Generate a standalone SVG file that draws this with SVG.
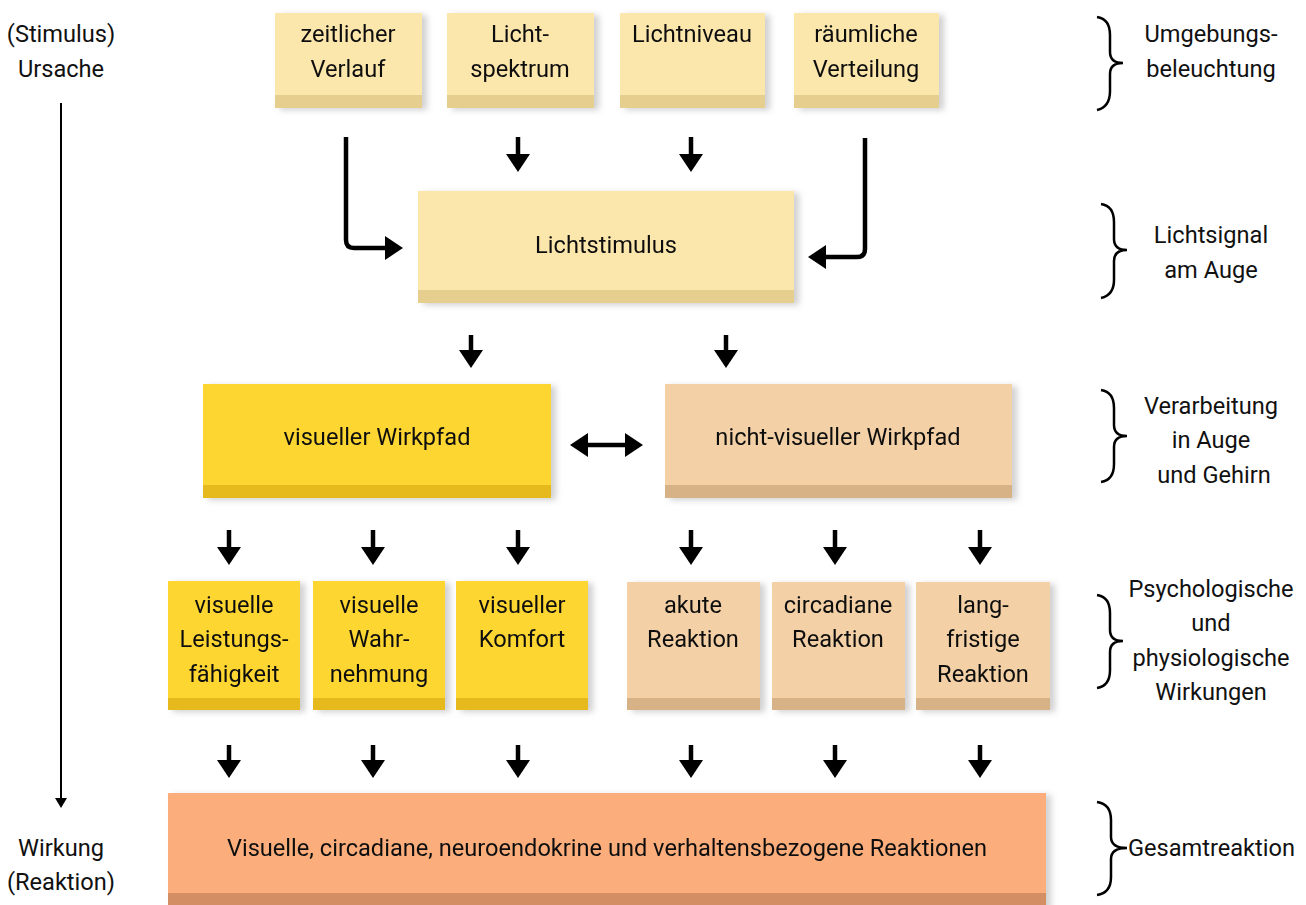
<svg xmlns="http://www.w3.org/2000/svg" width="1306" height="905" viewBox="0 0 1306 905">
<defs>
<style>
text{font-family:Roboto,"Liberation Sans",sans-serif;font-size:23.6px;fill:#111;text-anchor:middle}
.lt{fill:#FBE6AC}.ltb{fill:#E6CF8E}
.ye{fill:#FDD631}.yeb{fill:#E6B91E}
.tn{fill:#F3D0A5}.tnb{fill:#D8B287}
.or{fill:#FBAE7B}.orb{fill:#D48E63}
.arr{stroke:#000;stroke-width:4.5;fill:none}
.br{stroke:#000;stroke-width:2.5;fill:none}
</style>
<filter id="sh" x="-10%" y="-10%" width="125%" height="130%">
<feDropShadow dx="5" dy="2" stdDeviation="3" flood-color="#7a7a7a" flood-opacity="0.35"/>
</filter>
<marker id="ah" viewBox="0 0 18 24" refX="4" refY="12" markerWidth="18" markerHeight="24" markerUnits="userSpaceOnUse" orient="auto-start-reverse">
<path d="M0,0 L18,12 L0,24 z" fill="#000"/>
</marker>
<marker id="ahs" viewBox="0 0 10 12" refX="2" refY="6" markerWidth="10" markerHeight="12" markerUnits="userSpaceOnUse" orient="auto">
<path d="M0,0 L10,6 L0,12 z" fill="#000"/>
</marker>
</defs>
<rect width="1306" height="905" fill="#fff"/>

<g id="connectors">
<line class="arr" x1="518" y1="137" x2="518" y2="158" marker-end="url(#ah)"/>
<line class="arr" x1="691" y1="137" x2="691" y2="158" marker-end="url(#ah)"/>
<path class="arr" d="M346,137 V240 Q346,248 354,248 H389" marker-end="url(#ah)"/>
<path class="arr" d="M865,138 V249 Q865,257 857,257 H822" marker-end="url(#ah)"/>
<line class="arr" x1="471" y1="335" x2="471" y2="354" marker-end="url(#ah)"/>
<line class="arr" x1="726" y1="335" x2="726" y2="354" marker-end="url(#ah)"/>
<line class="arr" x1="584" y1="445" x2="629" y2="445" marker-start="url(#ah)" marker-end="url(#ah)"/>
<g>
<line class="arr" x1="229" y1="530" x2="229" y2="551" marker-end="url(#ah)"/>
<line class="arr" x1="373" y1="530" x2="373" y2="551" marker-end="url(#ah)"/>
<line class="arr" x1="518" y1="530" x2="518" y2="551" marker-end="url(#ah)"/>
<line class="arr" x1="691" y1="530" x2="691" y2="551" marker-end="url(#ah)"/>
<line class="arr" x1="835" y1="530" x2="835" y2="551" marker-end="url(#ah)"/>
<line class="arr" x1="980" y1="530" x2="980" y2="551" marker-end="url(#ah)"/>
</g>
<g>
<line class="arr" x1="229" y1="745" x2="229" y2="764" marker-end="url(#ah)"/>
<line class="arr" x1="373" y1="745" x2="373" y2="764" marker-end="url(#ah)"/>
<line class="arr" x1="518" y1="745" x2="518" y2="764" marker-end="url(#ah)"/>
<line class="arr" x1="691" y1="745" x2="691" y2="764" marker-end="url(#ah)"/>
<line class="arr" x1="835" y1="745" x2="835" y2="764" marker-end="url(#ah)"/>
<line class="arr" x1="980" y1="745" x2="980" y2="764" marker-end="url(#ah)"/>
</g>
<line x1="61" y1="103" x2="61" y2="800" stroke="#000" stroke-width="2" marker-end="url(#ahs)"/>
</g>

<g id="n-zeitlich" filter="url(#sh)"><rect class="lt" x="275" y="13" width="147" height="95"/><rect class="ltb" x="275" y="95" width="147" height="13"/><text x="348" y="42">zeitlicher</text><text x="348" y="77">Verlauf</text></g>
<g id="n-spektrum" filter="url(#sh)"><rect class="lt" x="447" y="13" width="147" height="95"/><rect class="ltb" x="447" y="95" width="147" height="13"/><text x="520" y="42">Licht-</text><text x="520" y="77">spektrum</text></g>
<g id="n-niveau" filter="url(#sh)"><rect class="lt" x="620" y="13" width="145" height="95"/><rect class="ltb" x="620" y="95" width="145" height="13"/><text x="692" y="42">Lichtniveau</text></g>
<g id="n-raeumlich" filter="url(#sh)"><rect class="lt" x="794" y="13" width="145" height="95"/><rect class="ltb" x="794" y="95" width="145" height="13"/><text x="866" y="42">räumliche</text><text x="866" y="77">Verteilung</text></g>

<g id="n-lichtstimulus" filter="url(#sh)"><rect class="lt" x="418" y="191" width="376" height="112"/><rect class="ltb" x="418" y="290" width="376" height="13"/><text x="606" y="253">Lichtstimulus</text></g>

<g id="n-visuell" filter="url(#sh)"><rect class="ye" x="203" y="384" width="348" height="114"/><rect class="yeb" x="203" y="485" width="348" height="13"/><text x="377" y="445">visueller Wirkpfad</text></g>
<g id="n-nichtvisuell" filter="url(#sh)"><rect class="tn" x="665" y="384" width="347" height="114"/><rect class="tnb" x="665" y="485" width="347" height="13"/><text x="838" y="445">nicht-visueller Wirkpfad</text></g>

<g id="n-leistung" filter="url(#sh)"><rect class="ye" x="168" y="581" width="132" height="129"/><rect class="yeb" x="168" y="698" width="132" height="12"/><text x="234" y="613">visuelle</text><text x="234" y="647">Leistungs-</text><text x="234" y="682">fähigkeit</text></g>
<g id="n-wahrnehmung" filter="url(#sh)"><rect class="ye" x="313" y="581" width="132" height="129"/><rect class="yeb" x="313" y="698" width="132" height="12"/><text x="379" y="613">visuelle</text><text x="379" y="647">Wahr-</text><text x="379" y="682">nehmung</text></g>
<g id="n-komfort" filter="url(#sh)"><rect class="ye" x="456" y="581" width="132" height="129"/><rect class="yeb" x="456" y="698" width="132" height="12"/><text x="522" y="613">visueller</text><text x="522" y="647">Komfort</text></g>
<g id="n-akut" filter="url(#sh)"><rect class="tn" x="627" y="582" width="133" height="128"/><rect class="tnb" x="627" y="698" width="133" height="12"/><text x="693" y="613">akute</text><text x="693" y="647">Reaktion</text></g>
<g id="n-circadian" filter="url(#sh)"><rect class="tn" x="772" y="582" width="133" height="128"/><rect class="tnb" x="772" y="698" width="133" height="12"/><text x="838" y="613">circadiane</text><text x="838" y="647">Reaktion</text></g>
<g id="n-langfristig" filter="url(#sh)"><rect class="tn" x="916" y="582" width="134" height="128"/><rect class="tnb" x="916" y="698" width="134" height="12"/><text x="983" y="613">lang-</text><text x="983" y="647">fristige</text><text x="983" y="682">Reaktion</text></g>

<g id="n-gesamt" filter="url(#sh)"><rect class="or" x="168" y="793" width="878" height="115"/><rect class="orb" x="168" y="893" width="878" height="15"/><text x="607" y="856">Visuelle, circadiane, neuroendokrine und verhaltensbezogene Reaktionen</text></g>

<g id="axis-labels">
<text x="61" y="42">(Stimulus)</text><text x="61" y="77">Ursache</text>
<text x="61" y="856">Wirkung</text><text x="61" y="890">(Reaktion)</text>
</g>

<g id="braces">
<path class="br" d="M1097,17 Q1110,19 1110,35 V52 Q1110,63 1123,63 Q1110,63 1110,74 V91 Q1110,107 1097,110"/>
<path class="br" d="M1101,204 Q1114,206 1114,222 V239 Q1114,250 1127,250 Q1114,250 1114,261 V280 Q1114,295 1101,298"/>
<path class="br" d="M1101,390 Q1114,392 1114,408 V425 Q1114,436 1127,436 Q1114,436 1114,447 V464 Q1114,480 1101,482"/>
<path class="br" d="M1097,595 Q1110,597 1110,613 V630 Q1110,641 1123,641 Q1110,641 1110,652 V670 Q1110,686 1097,688"/>
<path class="br" d="M1097,802 Q1111,804 1111,820 V837 Q1111,848 1127,848 Q1111,848 1111,859 V877 Q1111,893 1097,895"/>
</g>

<g id="level-labels">
<text x="1211" y="42">Umgebungs-</text><text x="1211" y="77">beleuchtung</text>
<text x="1211" y="243">Lichtsignal</text><text x="1211" y="278">am Auge</text>
<text x="1211" y="414">Verarbeitung</text><text x="1211" y="448">in Auge</text><text x="1214" y="483">und Gehirn</text>
<text x="1211" y="597">Psychologische</text><text x="1211" y="631">und</text><text x="1211" y="666">physiologische</text><text x="1211" y="700">Wirkungen</text>
<text x="1128" y="856" style="text-anchor:start">Gesamtreaktion</text>
</g>
</svg>
